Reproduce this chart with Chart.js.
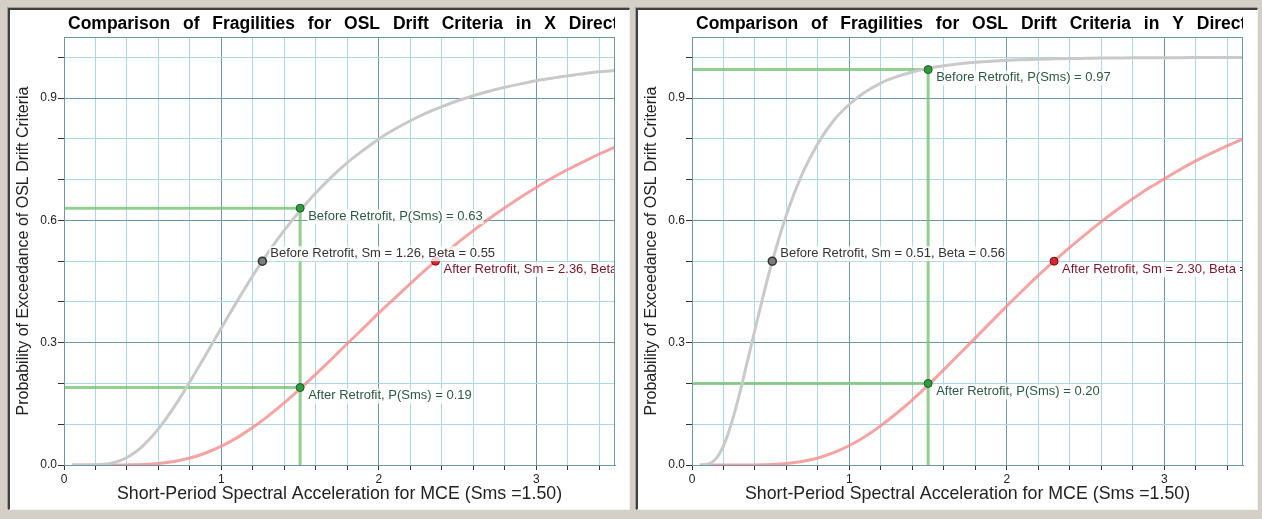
<!DOCTYPE html>
<html>
<head>
<meta charset="utf-8">
<script src="https://cdn.jsdelivr.net/npm/chart.js@4.4.1/dist/chart.umd.min.js"></script>
<style>
  body { margin: 0; background: #d4d0c8; width: 1262px; height: 519px; overflow: hidden; position: relative; }
  .panel { position: absolute; top: 8px; width: 619px; height: 499px; background: #fff;
           border-style: solid; border-width: 2px 1px 1px 2px;
           border-color: #404040 #f4f2ee #f4f2ee #404040; box-shadow: -1px -1px 0 #a09e98; }
</style>
</head>
<body>
<div class="panel" style="left:8px"><canvas id="chartX" width="619" height="499"></canvas></div>
<div class="panel" style="left:636px"><canvas id="chartY" width="619" height="499"></canvas></div>
<script>
// spectral acceleration grid (g)
const sms = [0.05, 0.1, 0.15, 0.2, 0.25, 0.3, 0.35, 0.4, 0.45, 0.5,
             0.6, 0.7, 0.8, 0.9, 1.0,
             1.1, 1.2, 1.3, 1.4, 1.5, 1.6, 1.7, 1.8, 1.9, 2.0,
             2.1, 2.2, 2.3, 2.4, 2.5, 2.6, 2.7, 2.8, 2.9, 3.0,
             3.1, 3.2, 3.3, 3.4, 3.5];

// X direction
const xBefore = [0, 0, 0.0001, 0.0004, 0.0016, 0.0045, 0.0099, 0.0185, 0.0306, 0.0465,
                 0.0887, 0.1426, 0.2045, 0.270, 0.337,
                 0.402, 0.465, 0.523, 0.576, 0.624, 0.668, 0.707, 0.742, 0.772, 0.800,
                 0.8235, 0.8446, 0.863, 0.879, 0.8936, 0.906, 0.917, 0.9267, 0.935, 0.9426,
                 0.949, 0.955, 0.960, 0.9645, 0.968];
const xAfter = [0, 0, 0, 0, 0, 0, 0.0001, 0.0003, 0.0006, 0.0012,
                0.0036, 0.0086, 0.017, 0.0294, 0.0461,
                0.0672, 0.0924, 0.1212, 0.153, 0.187, 0.223, 0.260, 0.298, 0.335, 0.373,
                0.409, 0.445, 0.480, 0.513, 0.545, 0.575, 0.604, 0.631, 0.657, 0.681,
                0.704, 0.725, 0.744, 0.763, 0.780];
const xMedians = [1.26, 2.36];
const xBetas = [0.55, 0.51];
const xProbAtSms = [0.63, 0.19];

// Y direction
const yBefore = [0, 0.002, 0.0144, 0.047, 0.1015, 0.1716, 0.251, 0.332, 0.4115, 0.486,
                 0.614, 0.714, 0.789, 0.845, 0.885,
                 0.915, 0.937, 0.9526, 0.9643, 0.973, 0.9794, 0.9842, 0.9878, 0.9906, 0.9927,
                 0.9942, 0.9955, 0.9964, 0.9972, 0.9977, 0.9982, 0.9985, 0.9988, 0.999, 0.9992,
                 0.9994, 0.9995, 0.9996, 0.9996, 0.9997];
const yAfter = [0, 0, 0, 0, 0, 0, 0, 0.0002, 0.0006, 0.0011,
                0.0036, 0.0087, 0.0173, 0.0303, 0.0479,
                0.070, 0.0966, 0.127, 0.160, 0.196, 0.234, 0.273, 0.312, 0.351, 0.390,
                0.428, 0.465, 0.5, 0.534, 0.566, 0.597, 0.626, 0.653, 0.679, 0.702,
                0.725, 0.746, 0.765, 0.783, 0.800];
const yMedians = [0.51, 2.30];
const yBetas = [0.56, 0.50];
const yProbAtSms = [0.97, 0.20];

const smsMCE = 1.50;

const FONT = '"Liberation Sans", Arial, sans-serif';
const MAJOR = '#6f97a5', MINOR = '#acd7e6';

const overlay = {
  id: 'overlay',
  afterDatasetsDraw(chart, args, opts) {
    const { ctx, chartArea: a, scales: { x, y } } = chart;
    ctx.save();
    ctx.beginPath();
    ctx.rect(a.left, a.top, a.width, a.height);
    ctx.clip();
    ctx.font = '13px ' + FONT;
    ctx.textBaseline = 'middle';
    opts.notes.forEach(n => {
      const px = x.getPixelForValue(n.x) + 8;
      const py = y.getPixelForValue(n.y) + n.dy;
      const w = ctx.measureText(n.text).width;
      ctx.fillStyle = 'rgba(255,255,255,0.8)';
      ctx.fillRect(px - 1, py - 7, w + 2, 15);
      ctx.fillStyle = n.color;
      ctx.fillText(n.text, px, py);
    });
    ctx.restore();
  },
  afterDraw(chart, args, opts) {
    const { ctx, chartArea: a } = chart;
    ctx.save();
    ctx.strokeStyle = MAJOR;
    ctx.lineWidth = 1;
    ctx.strokeRect(a.left + 0.5, a.top + 0.5, a.width - 1, a.height);
    ctx.beginPath();
    ctx.rect(0, 0, a.right, a.top);
    ctx.clip();
    ctx.font = 'bold 17.5px ' + FONT;
    ctx.wordSpacing = '8px';
    ctx.fillStyle = '#000';
    ctx.textBaseline = 'middle';
    ctx.fillText(opts.title, a.left + 4, 14);
    ctx.restore();
  }
};

function line(xs, ys, color, width) {
  return {
    data: xs.map((v, i) => ({ x: v, y: ys[i] })),
    showLine: true, borderColor: color, borderWidth: width,
    pointRadius: 0, cubicInterpolationMode: 'monotone'
  };
}

function makeChart(id, title, before, after, medians, betas, probs) {
  const green = 'rgba(120,195,115,0.8)';
  const datasets = [
    { data: [{ x: smsMCE, y: probs[0] }, { x: smsMCE, y: probs[1] }],
      pointRadius: 4, pointBackgroundColor: '#2f9a3f', pointBorderColor: '#1c5a22', pointBorderWidth: 1 },
    { data: [{ x: medians[0], y: 0.5 }],
      pointRadius: 4, pointBackgroundColor: '#7c7c7c', pointBorderColor: '#303030', pointBorderWidth: 1.5 },
    { data: [{ x: medians[1], y: 0.5 }],
      pointRadius: 4, pointBackgroundColor: '#d8262c', pointBorderColor: '#7a0c10', pointBorderWidth: 1 },
    line(sms, before, '#c9c9c9', 3),
    line(sms, after, 'rgba(243,140,140,0.8)', 3),
    line([0, smsMCE], [probs[0], probs[0]], green, 3),
    line([0, smsMCE], [probs[1], probs[1]], green, 3),
    line([smsMCE, smsMCE], [0, probs[0]], green, 3)
  ];
  const notes = [
    { x: smsMCE, y: probs[0], dy: 8, color: '#2c5a40', text: 'Before Retrofit, P(Sms) = ' + probs[0].toFixed(2) },
    { x: smsMCE, y: probs[1], dy: 8, color: '#2c5a40', text: 'After Retrofit, P(Sms) = ' + probs[1].toFixed(2) },
    { x: medians[0], y: 0.5, dy: -8, color: '#333', text: 'Before Retrofit, Sm = ' + medians[0].toFixed(2) + ', Beta = ' + betas[0].toFixed(2) },
    { x: medians[1], y: 0.5, dy: 8, color: '#7a1628', text: 'After Retrofit, Sm = ' + medians[1].toFixed(2) + ', Beta = ' + betas[1].toFixed(2) }
  ];
  const tickFont = { family: FONT, size: 12 };
  return new Chart(document.getElementById(id), {
    type: 'scatter',
    data: { datasets },
    plugins: [overlay],
    options: {
      responsive: false,
      animation: false,
      devicePixelRatio: 1,
      layout: { padding: { left: 0, right: 14, top: 27, bottom: 0 } },
      plugins: { legend: { display: false }, tooltip: { enabled: false }, overlay: { notes, title } },
      scales: {
        x: {
          type: 'linear', min: 0, max: 3.5,
          afterFit: s => { s.height = 44; },
          ticks: {
            stepSize: 0.2, includeBounds: false, autoSkip: false, maxRotation: 0,
            padding: 2, color: '#222', font: tickFont,
            callback: v => Math.abs(v - Math.round(v)) < 1e-6 ? String(Math.round(v)) : ''
          },
          grid: {
            color: c => Math.abs(c.tick.value - Math.round(c.tick.value)) < 1e-6 ? MAJOR : MINOR,
            tickColor: '#333', tickLength: 5
          },
          border: { color: MAJOR },
          title: { display: true, text: 'Short-Period Spectral Acceleration for MCE (Sms =' + smsMCE.toFixed(2) + ')',
                   color: '#222', font: { family: FONT, size: 17.8 }, padding: { top: 0, bottom: 4.5 } }
        },
        y: {
          type: 'linear', min: 0, max: 1.05,
          afterFit: s => { s.width = 54; },
          ticks: {
            stepSize: 0.1, includeBounds: false, padding: 1, color: '#222', font: tickFont,
            callback: v => (Math.round(v * 10) % 3 === 0 && v < 0.95) ? v.toFixed(1) : ''
          },
          grid: {
            color: c => Math.round(c.tick.value * 10) % 3 === 0 ? MAJOR : MINOR,
            tickColor: '#333', tickLength: 6
          },
          border: { color: MAJOR },
          title: { display: true, text: 'Probability of Exceedance of OSL Drift Criteria',
                   color: '#222', font: { family: FONT, size: 16 }, padding: { top: 3.5, bottom: 0 } }
        }
      }
    }
  });
}

makeChart('chartX', 'Comparison of Fragilities for OSL Drift Criteria in X Direction',
          xBefore, xAfter, xMedians, xBetas, xProbAtSms);
makeChart('chartY', 'Comparison of Fragilities for OSL Drift Criteria in Y Direction',
          yBefore, yAfter, yMedians, yBetas, yProbAtSms);
</script>
</body>
</html>
